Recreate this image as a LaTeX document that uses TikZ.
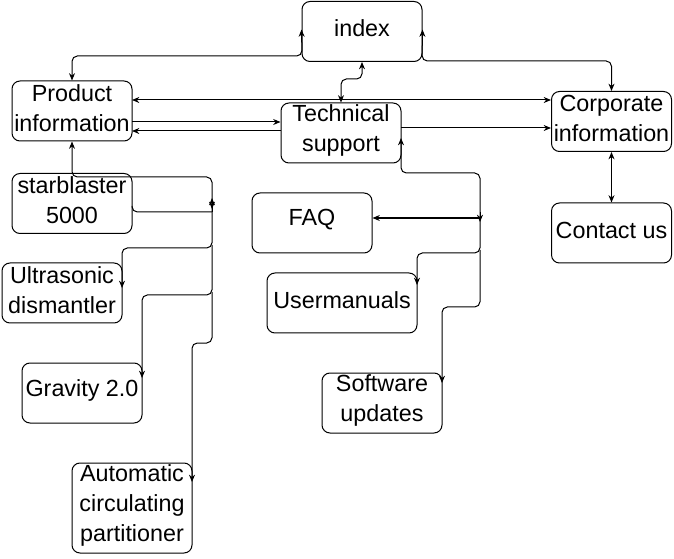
\documentclass[tikz,border=0pt]{standalone}
\usepackage{fontspec}
\setmainfont{Liberation Sans}
\usetikzlibrary{arrows.meta}
\newcommand{\mkbox}[4][]{%
  \node[boxshape,#1] (#2) at (#3) {};
  \node[boxtext] (#2-t) at ([yshift=2.25pt]#2.center) {#4};}
\begin{document}
\begin{tikzpicture}[x=0.75pt,y=-0.75pt,
  >={Stealth[length=5.5pt,width=4.5pt]},
  boxshape/.style={draw, line width=0.75pt, rounded corners=6pt, minimum width=90pt, minimum height=45pt, inner sep=0pt},
  boxtext/.style={inner sep=0pt, align=center, font=\fontsize{17.5}{22.5}\selectfont},
  conn/.style={line width=0.75pt, rounded corners=4pt}]
\useasboundingbox (0,0) rectangle (674,559);
% nodes
\mkbox{index}{362,31.5}{index}
\mkbox{prod}{72,111}{Product\\information}
\mkbox{tech}{341,133}{Technical\\support}
\mkbox{corp}{611.5,121.5}{Corporate\\information}
\mkbox{contact}{611.5,233}{Contact us}
\mkbox{sb}{72,203.5}{starblaster\\5000}
\mkbox{ultra}{62,293}{Ultrasonic\\dismantler}
\mkbox{grav}{82,393}{Gravity 2.0}
\mkbox[minimum height=67.5pt]{auto}{132,508}{Automatic\\circulating\\partitioner}
\mkbox{faq}{312,223}{FAQ}
\mkbox[minimum width=112.5pt]{user}{342,303}{Usermanuals}
\mkbox{soft}{382,403}{Software\\updates}
% junction coordinates
\coordinate (jl) at (212,205);
\coordinate (jr) at (480,218);
% top connectors
\draw[conn,<->] ([yshift=1.5pt]index.west) -- (302,56) -- (72,56) -- (prod.north);
\draw[conn,<->] ([yshift=1.5pt]index.east) -- (422,61) -- (611.5,61) -- (corp.north);
\draw[conn,<->] (index.south) -- (362,79) -- (341,79) -- (tech.north);
\draw[conn,<->] (132,100) -- (corp.west |- 0,100);
\draw[conn,->] (132,122) -- (tech.west |- 0,122);
\draw[conn,->] (tech.west |- 0,131) -- (132,131);
\draw[conn,->] (401,128) -- (corp.west |- 0,128);
\draw[conn,<->] (corp.south) -- (contact.north);
% right subtree
\draw[conn,<-] (401,138) -- (401,173) -- (480,173) -- (jr);
\draw[conn,<-,line width=1.3pt] (faq.east |- jr) -- (jr);
\draw[conn,->] ([yshift=4.5pt]jr) -- ([yshift=-3pt]jr);
\draw[conn,->] (jr) -- (480,253) -- (417,253) -- (417,285);
\draw[conn,->] (480,250) -- (480,307) -- (442,307) -- (442,383);
% left subtree
\draw[conn,<-] (prod.south) -- (72,177) -- (212,177) -- (jl);
\draw[conn] (132,206) -- (132,212) -- (212,212);
\draw[conn,->] (212,212) -- (212,198);
\draw[conn,->] (212,201) -- (212,209);
\draw[conn,->] (jl) -- (212,248) -- (122,248) -- (122,288);
\draw[conn,->] (212,245) -- (212,295) -- (142,295) -- (142,378);
\draw[conn,->] (212,292) -- (212,343) -- (192,343) -- (192,482);
\end{tikzpicture}
\end{document}
